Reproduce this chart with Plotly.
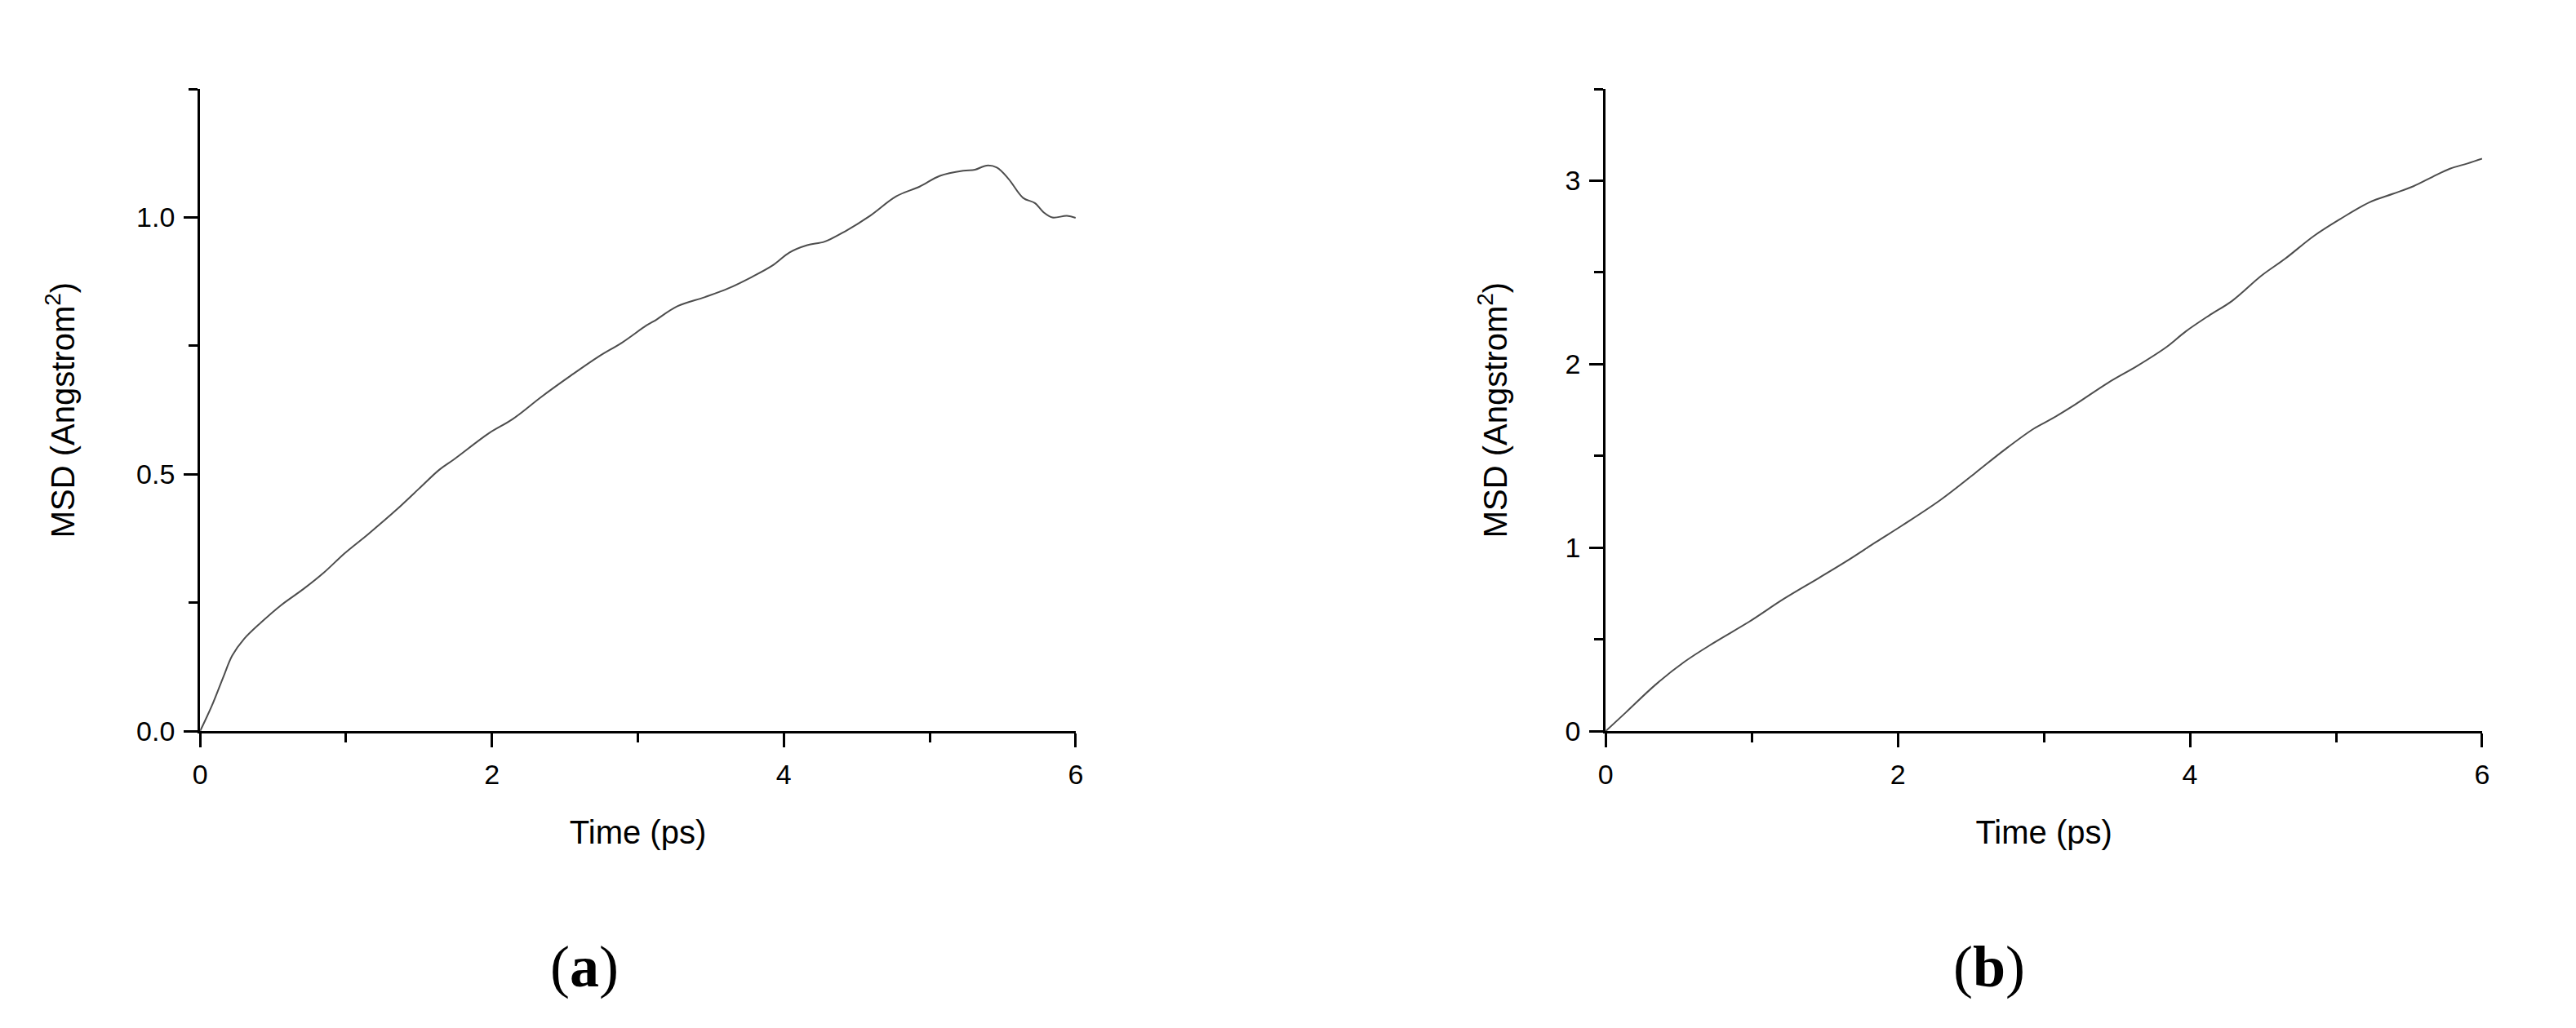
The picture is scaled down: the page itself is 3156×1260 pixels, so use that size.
import plotly.graph_objects as go

# ---- Data ----
time_a = [0.0, 0.08, 0.16, 0.22, 0.30, 0.42, 0.55, 0.71, 0.85, 0.99, 1.15, 1.35, 1.50, 1.64, 1.74,
          1.98, 2.14, 2.34, 2.54, 2.73, 2.89, 3.06, 3.11, 3.27, 3.46, 3.62, 3.78, 3.92, 4.04, 4.16,
          4.28, 4.42, 4.59, 4.77, 4.93, 5.07, 5.23, 5.31, 5.39, 5.46, 5.54, 5.64, 5.72, 5.78, 5.84,
          5.94, 6.0]
msd_a = [0.0, 0.049, 0.106, 0.147, 0.179, 0.212, 0.244, 0.277, 0.309, 0.346, 0.383, 0.432, 0.472,
         0.509, 0.529, 0.580, 0.607, 0.651, 0.692, 0.729, 0.756, 0.790, 0.798, 0.827, 0.845, 0.862,
         0.884, 0.906, 0.932, 0.946, 0.953, 0.973, 1.003, 1.041, 1.060, 1.081, 1.091, 1.093, 1.101,
         1.097, 1.075, 1.038, 1.028, 1.010, 1.000, 1.003, 0.999]

time_b = [0.0, 0.14, 0.34, 0.54, 0.74, 0.98, 1.22, 1.46, 1.65, 1.85, 2.03, 2.29, 2.53, 2.73, 2.93,
          3.06, 3.20, 3.44, 3.64, 3.84, 3.97, 4.13, 4.29, 4.49, 4.65, 4.85, 5.03, 5.23, 5.39, 5.53,
          5.66, 5.78, 5.90, 6.0]
msd_b = [0.0, 0.103, 0.252, 0.378, 0.481, 0.595, 0.721, 0.835, 0.927, 1.030, 1.121, 1.259, 1.407,
         1.533, 1.648, 1.705, 1.773, 1.899, 1.991, 2.094, 2.178, 2.265, 2.346, 2.483, 2.574, 2.700,
         2.792, 2.883, 2.929, 2.970, 3.021, 3.066, 3.094, 3.120]

x_ticks = [0, 2, 4, 6]
y_ticks_a = [0.0, 0.5, 1.0]
y_ticks_b = [0, 1, 2, 3]
panel_labels = ["a", "b"]
x_title = "Time (ps)"
y_title = "MSD (Angstrom<sup>2</sup>)"

# ---- Styling ----
PAGE_W, PAGE_H = 3156, 1260
OFF = 8  # default page body margin
W, H = PAGE_W - 2 * OFF, PAGE_H - 2 * OFF
LINE_COLOR = "#4d4d4d"
AX_FONT = "Arial, Liberation Sans, sans-serif"
TICK_FONT = dict(family=AX_FONT, size=34, color="black")
TITLE_FONT = dict(family=AX_FONT, size=40, color="black")


def px_x(p):
    return (p - OFF) / W


def px_y(p):
    return 1 - (p - OFF) / H


fig = go.Figure()
fig.add_trace(go.Scatter(x=time_a, y=msd_a, mode="lines", line=dict(color=LINE_COLOR, width=2),
                         line_shape="spline", xaxis="x", yaxis="y", showlegend=False))
fig.add_trace(go.Scatter(x=time_b, y=msd_b, mode="lines", line=dict(color=LINE_COLOR, width=2),
                         line_shape="spline", xaxis="x2", yaxis="y2", showlegend=False))


def xaxis_cfg(domain, anchor):
    return dict(domain=domain, anchor=anchor, range=[0, 6], tickmode="array", tickvals=x_ticks,
                showline=True, linecolor="black", linewidth=3, mirror=False,
                ticks="outside", ticklen=17, tickwidth=3, tickcolor="black",
                minor=dict(dtick=1, tick0=0, ticks="outside", ticklen=11, tickwidth=3,
                           tickcolor="black", showgrid=False),
                showgrid=False, zeroline=False, tickfont=TICK_FONT, ticklabelstandoff=4,
                title=dict(text=x_title, font=TITLE_FONT, standoff=40))


def yaxis_cfg(domain, anchor, rng, ticks, fmt, minor_dtick, standoff):
    return dict(domain=domain, anchor=anchor, range=rng, tickmode="array", tickvals=ticks,
                tickformat=fmt,
                showline=True, linecolor="black", linewidth=3, mirror=False,
                ticks="outside", ticklen=17, tickwidth=3, tickcolor="black",
                minor=dict(dtick=minor_dtick, tick0=0, ticks="outside", ticklen=11, tickwidth=3,
                           tickcolor="black", showgrid=False),
                showgrid=False, zeroline=False, tickfont=TICK_FONT, ticklabelstandoff=4,
                title=dict(text=y_title, font=TITLE_FONT, standoff=standoff))


ydom = [px_y(909.8), px_y(110.7)]
label_font = dict(family="Liberation Serif, Times New Roman, serif", size=72, color="black")
fig.update_layout(
    width=W, height=H,
    margin=dict(l=0, r=0, t=0, b=0),
    paper_bgcolor="white", plot_bgcolor="white",
    xaxis=xaxis_cfg([px_x(237.5), px_x(1316.4)], "y"),
    yaxis=yaxis_cfg(ydom, "x", [0, 1.25], y_ticks_a, ".1f", 0.25, 64),
    xaxis2=xaxis_cfg([px_x(1969.5), px_x(3049.4)], "y2"),
    yaxis2=yaxis_cfg(ydom, "x2", [0, 3.5], y_ticks_b, "d", 0.5, 59),
    annotations=[
        dict(text=f"(<b>{panel_labels[0]}</b>)", x=px_x(711), y=px_y(1203), xref="paper",
             yref="paper", showarrow=False, xanchor="center", yanchor="middle", font=label_font),
        dict(text=f"(<b>{panel_labels[1]}</b>)", x=px_x(2442), y=px_y(1203), xref="paper",
             yref="paper", showarrow=False, xanchor="center", yanchor="middle", font=label_font),
    ],
)

fig.write_html("out.html")
